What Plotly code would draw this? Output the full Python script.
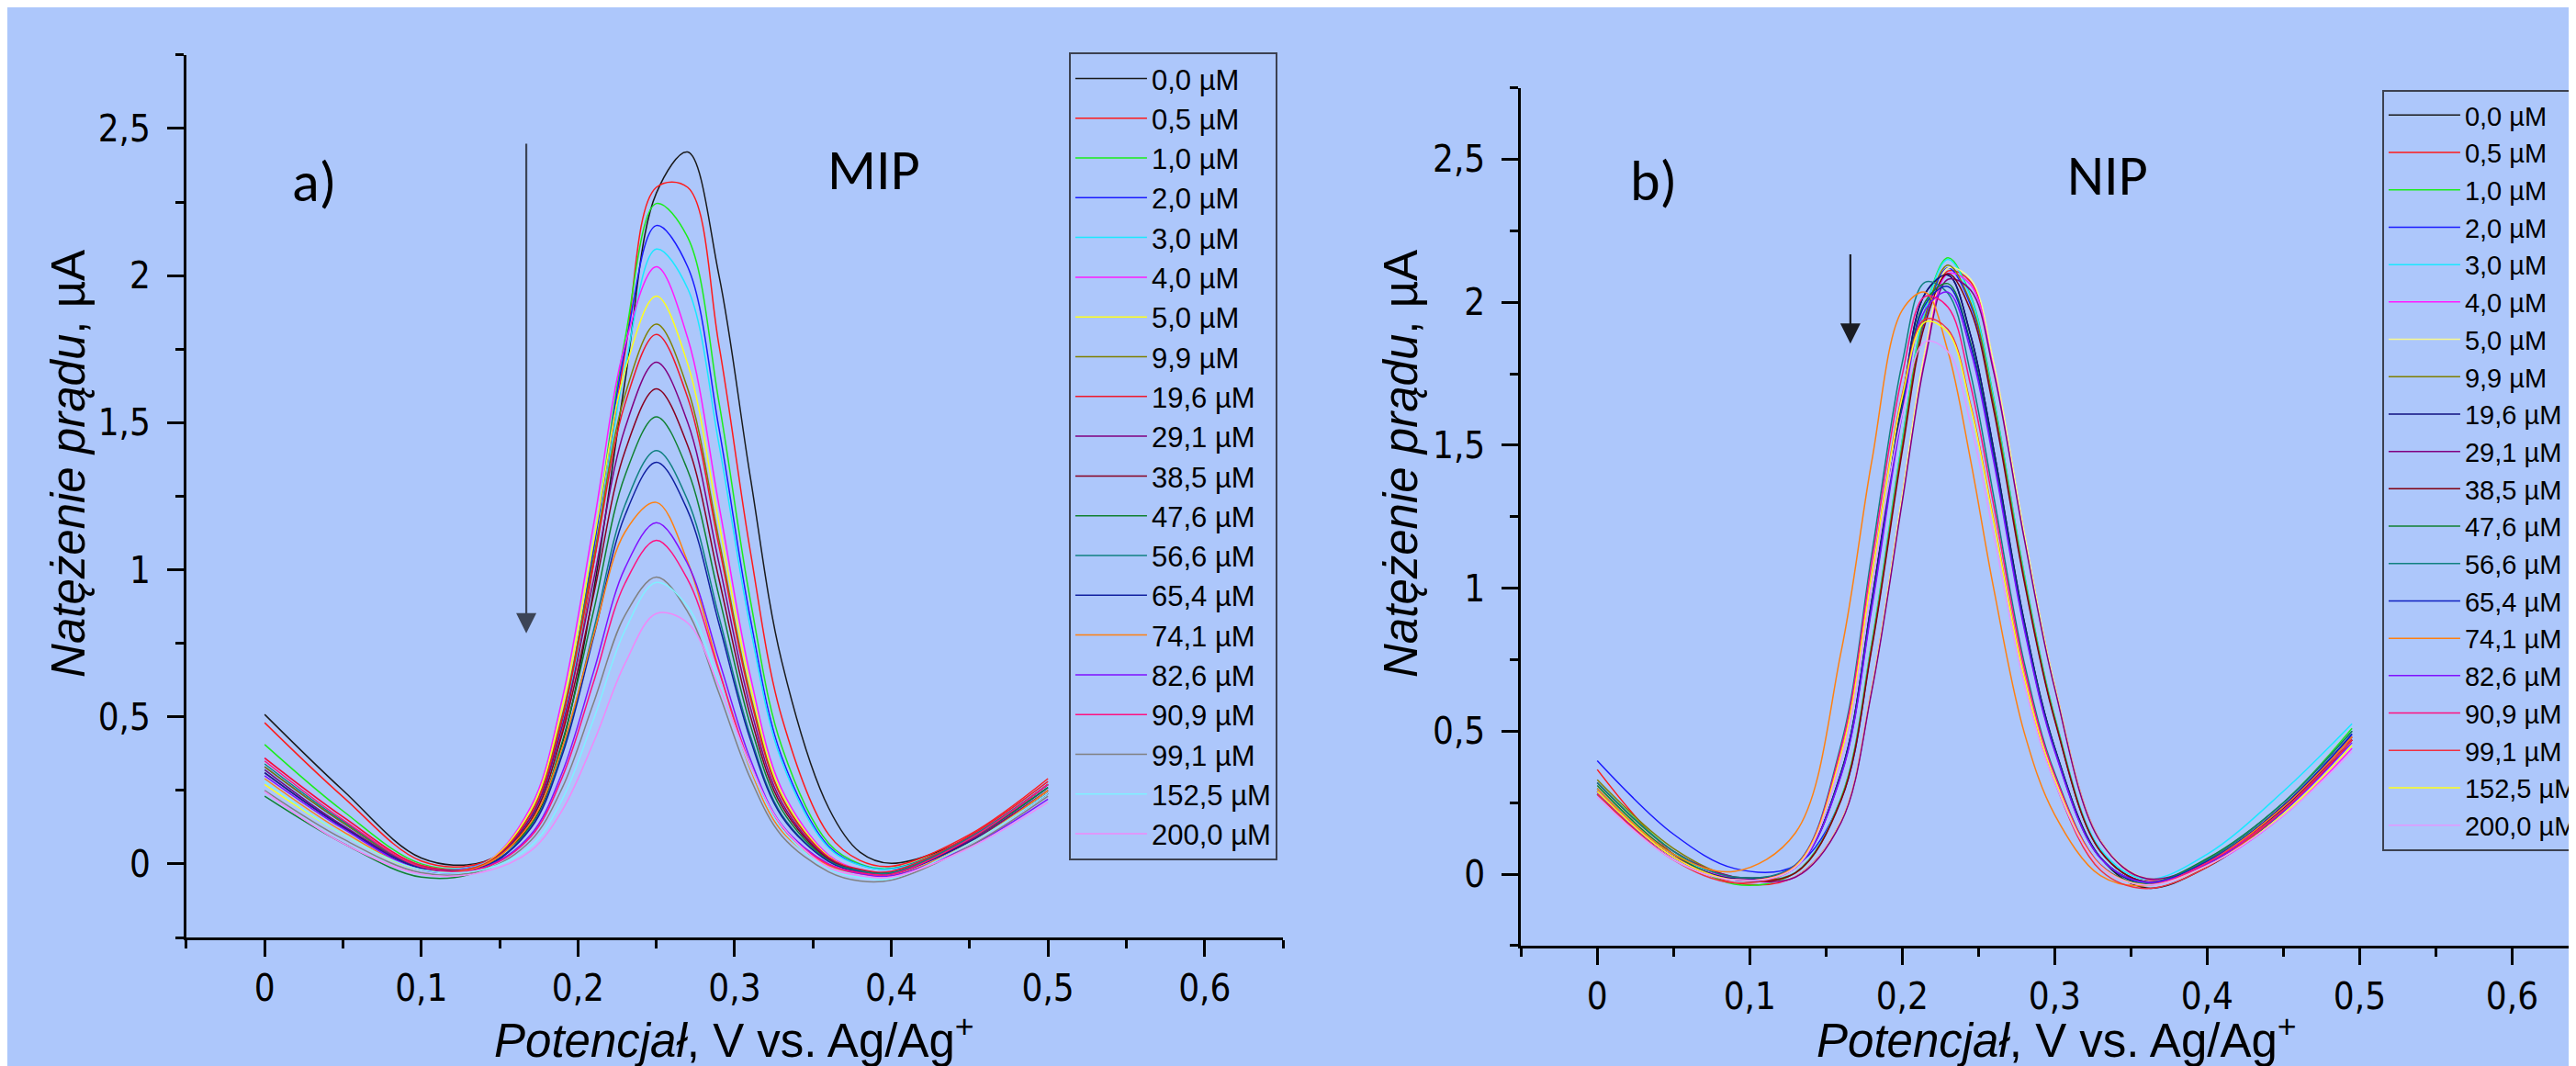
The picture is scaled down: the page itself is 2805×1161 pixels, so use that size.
import plotly.graph_objects as go

# ---------------- data ----------------
CONC_LABELS = ["0,0 µM", "0,5 µM", "1,0 µM", "2,0 µM", "3,0 µM", "4,0 µM", "5,0 µM",
               "9,9 µM", "19,6 µM", "29,1 µM", "38,5 µM", "47,6 µM", "56,6 µM",
               "65,4 µM", "74,1 µM", "82,6 µM", "90,9 µM", "99,1 µM", "152,5 µM", "200,0 µM"]

MIP_X = [0, 0.05, 0.1, 0.14, 0.17, 0.19, 0.21, 0.23, 0.25, 0.27, 0.29, 0.31, 0.33, 0.36, 0.38, 0.4, 0.45, 0.5]
NIP_X = [0, 0.05, 0.09, 0.13, 0.16, 0.18, 0.2, 0.215, 0.23, 0.245, 0.26, 0.28, 0.3, 0.33, 0.36, 0.4, 0.45, 0.495]

# MIP currents (µA)
MIP_0_0 = [0.508, 0.25, 0.02, 0.008, 0.134, 0.41, 0.93, 1.64, 2.28, 2.42, 2.00, 1.315, 0.69, 0.19, 0.04, 0.002, 0.09, 0.27]
MIP_0_5 = [0.48, 0.228, 0.01, 0.006, 0.15, 0.455, 1.02, 1.737, 2.30, 2.30, 1.763, 1.063, 0.50, 0.10, 0.012, -0.008, 0.10, 0.29]
MIP_1_0 = [0.406, 0.18, 0.0, 0.0, 0.156, 0.485, 1.076, 1.784, 2.245, 2.13, 1.569, 0.897, 0.40, 0.07, 0.0, -0.015, 0.09, 0.27]
MIP_2_0 = [0.33, 0.14, -0.01, 0.003, 0.16, 0.49, 1.071, 1.751, 2.17, 2.03, 1.48, 0.835, 0.365, 0.06, -0.003, -0.017, 0.085, 0.26]
MIP_3_0 = [0.32, 0.13, -0.01, 0.002, 0.154, 0.471, 1.032, 1.687, 2.09, 1.956, 1.426, 0.804, 0.35, 0.055, -0.004, -0.017, 0.08, 0.25]
MIP_4_0 = [0.36, 0.16, -0.005, 0.001, 0.195, 0.562, 1.154, 1.764, 2.03, 1.788, 1.219, 0.639, 0.255, 0.03, -0.02, -0.028, 0.09, 0.27]
MIP_5_0 = [0.27, 0.10, -0.02, 0.0, 0.184, 0.534, 1.096, 1.677, 1.93, 1.70, 1.159, 0.606, 0.24, 0.025, -0.022, -0.03, 0.075, 0.24]
MIP_9_9 = [0.33, 0.14, -0.01, -0.002, 0.173, 0.506, 1.042, 1.594, 1.835, 1.616, 1.101, 0.576, 0.228, 0.022, -0.022, -0.03, 0.08, 0.25]
MIP_19_6 = [0.36, 0.16, -0.005, -0.002, 0.17, 0.496, 1.022, 1.564, 1.80, 1.585, 1.08, 0.564, 0.225, 0.022, -0.018, -0.025, 0.095, 0.28]
MIP_29_1 = [0.32, 0.13, -0.01, -0.004, 0.159, 0.469, 0.967, 1.481, 1.705, 1.501, 1.022, 0.533, 0.21, 0.018, -0.022, -0.03, 0.08, 0.25]
MIP_38_5 = [0.31, 0.125, -0.015, -0.005, 0.149, 0.443, 0.915, 1.403, 1.615, 1.422, 0.968, 0.504, 0.198, 0.015, -0.023, -0.03, 0.075, 0.24]
MIP_47_6 = [0.23, 0.07, -0.045, -0.017, 0.134, 0.416, 0.861, 1.32, 1.52, 1.338, 0.91, 0.473, 0.185, 0.012, -0.024, -0.03, 0.085, 0.26]
MIP_56_6 = [0.34, 0.145, -0.01, -0.008, 0.126, 0.383, 0.795, 1.22, 1.405, 1.236, 0.84, 0.436, 0.168, 0.01, -0.024, -0.03, 0.09, 0.27]
MIP_65_4 = [0.31, 0.125, -0.015, -0.009, 0.122, 0.371, 0.772, 1.185, 1.365, 1.201, 0.816, 0.423, 0.162, 0.008, -0.028, -0.035, 0.075, 0.24]
MIP_74_1 = [0.29, 0.11, -0.02, -0.004, 0.141, 0.397, 0.778, 1.128, 1.229, 1.027, 0.661, 0.322, 0.112, -0.005, -0.033, -0.04, 0.07, 0.25]
MIP_82_6 = [0.30, 0.12, -0.02, -0.012, 0.10, 0.312, 0.654, 1.006, 1.16, 1.02, 0.692, 0.356, 0.133, 0.0, -0.033, -0.04, 0.06, 0.22]
MIP_90_9 = [0.35, 0.15, -0.01, -0.013, 0.093, 0.295, 0.619, 0.954, 1.10, 0.967, 0.655, 0.337, 0.125, -0.002, -0.03, -0.035, 0.085, 0.27]
MIP_99_1 = [0.25, 0.085, -0.03, -0.02, 0.08, 0.259, 0.548, 0.845, 0.975, 0.857, 0.58, 0.291, 0.096, -0.027, -0.058, -0.055, 0.06, 0.23]
MIP_152_5 = [0.28, 0.10, -0.02, -0.018, 0.061, 0.22, 0.492, 0.794, 0.957, 0.875, 0.615, 0.329, 0.12, -0.017, -0.046, -0.05, 0.07, 0.24]
MIP_200_0 = [0.246, 0.07, -0.035, -0.027, 0.045, 0.183, 0.414, 0.681, 0.851, 0.819, 0.604, 0.336, 0.131, -0.012, -0.04, -0.045, 0.055, 0.21]

# NIP currents (µA)
NIP_0_0 = [0.30, 0.07, -0.01, 0.025, 0.357, 0.955, 1.654, 2.03, 2.095, 1.882, 1.485, 0.884, 0.443, 0.058, -0.048, 0.025, 0.22, 0.47]
NIP_0_5 = [0.366, 0.07, -0.03, -0.009, 0.186, 0.649, 1.32, 1.823, 2.109, 2.07, 1.781, 1.191, 0.659, 0.117, -0.019, 0.04, 0.24, 0.48]
NIP_1_0 = [0.32, 0.08, -0.035, 0.006, 0.268, 0.809, 1.517, 1.974, 2.155, 2.021, 1.665, 1.051, 0.552, 0.083, -0.027, 0.05, 0.25, 0.51]
NIP_2_0 = [0.397, 0.14, 0.02, 0.03, 0.263, 0.796, 1.492, 1.942, 2.12, 1.988, 1.638, 1.034, 0.544, 0.081, -0.027, 0.04, 0.23, 0.49]
NIP_3_0 = [0.30, 0.07, -0.01, 0.006, 0.268, 0.807, 1.514, 1.97, 2.15, 2.016, 1.661, 1.048, 0.551, 0.088, -0.017, 0.07, 0.29, 0.526]
NIP_4_0 = [0.29, 0.06, -0.015, -0.01, 0.184, 0.646, 1.314, 1.814, 2.10, 2.06, 1.773, 1.186, 0.656, 0.116, -0.015, 0.03, 0.205, 0.44]
NIP_5_0 = [0.31, 0.08, -0.01, -0.009, 0.187, 0.652, 1.327, 1.831, 2.119, 2.08, 1.789, 1.197, 0.662, 0.117, -0.014, 0.035, 0.22, 0.46]
NIP_9_9 = [0.33, 0.09, -0.01, 0.005, 0.265, 0.80, 1.499, 1.951, 2.13, 1.997, 1.646, 1.038, 0.546, 0.081, -0.027, 0.05, 0.25, 0.50]
NIP_19_6 = [0.28, 0.06, -0.015, 0.025, 0.357, 0.955, 1.654, 2.03, 2.095, 1.882, 1.485, 0.884, 0.443, 0.058, -0.035, 0.04, 0.23, 0.47]
NIP_29_1 = [0.32, 0.08, -0.01, -0.01, 0.182, 0.64, 1.302, 1.797, 2.08, 2.041, 1.756, 1.174, 0.65, 0.114, -0.015, 0.045, 0.235, 0.48]
NIP_38_5 = [0.29, 0.06, -0.02, 0.005, 0.26, 0.788, 1.478, 1.924, 2.10, 1.969, 1.623, 1.024, 0.539, 0.08, -0.027, 0.035, 0.22, 0.47]
NIP_47_6 = [0.31, 0.07, -0.02, 0.024, 0.351, 0.941, 1.63, 2.001, 2.065, 1.855, 1.464, 0.871, 0.437, 0.057, -0.028, 0.055, 0.25, 0.50]
NIP_56_6 = [0.32, 0.08, -0.01, 0.033, 0.456, 1.118, 1.788, 2.07, 2.031, 1.747, 1.321, 0.74, 0.354, 0.033, -0.032, 0.05, 0.25, 0.50]
NIP_65_4 = [0.29, 0.06, -0.02, 0.024, 0.349, 0.937, 1.622, 1.991, 2.055, 1.846, 1.457, 0.867, 0.435, 0.057, -0.028, 0.045, 0.24, 0.49]
NIP_74_1 = [0.30, 0.07, 0.01, 0.145, 0.78, 1.443, 1.972, 2.035, 1.828, 1.443, 0.999, 0.496, 0.208, -0.005, -0.04, 0.04, 0.235, 0.48]
NIP_82_6 = [0.28, 0.06, -0.02, 0.024, 0.346, 0.928, 1.607, 1.972, 2.035, 1.828, 1.443, 0.858, 0.43, 0.056, -0.028, 0.035, 0.22, 0.46]
NIP_90_9 = [0.29, 0.06, -0.02, 0.03, 0.444, 1.091, 1.745, 2.02, 1.983, 1.706, 1.289, 0.722, 0.346, 0.032, -0.037, 0.04, 0.225, 0.47]
NIP_99_1 = [0.28, 0.05, -0.03, 0.027, 0.424, 1.048, 1.677, 1.941, 1.905, 1.638, 1.238, 0.694, 0.323, 0.014, -0.05, 0.025, 0.225, 0.47]
NIP_152_5 = [0.29, 0.06, -0.02, 0.027, 0.421, 1.043, 1.668, 1.931, 1.895, 1.63, 1.232, 0.69, 0.331, 0.029, -0.037, 0.03, 0.21, 0.45]
NIP_200_0 = [0.27, 0.05, -0.02, 0.023, 0.404, 1.005, 1.608, 1.862, 1.827, 1.571, 1.187, 0.665, 0.32, 0.027, -0.038, 0.03, 0.205, 0.43]

MIP_COLORS = ["#1a1a1a", "#ff1a1a", "#1aee1a", "#1a1aff", "#1ae8ff", "#ff1aff", "#ffff1a", "#808000",
              "#f0182a", "#800080", "#880020", "#108030", "#108080", "#1020a0", "#ff8010", "#8010ff",
              "#ff1080", "#808080", "#80f0ff", "#f088f8"]
NIP_COLORS = ["#1a1a1a", "#ff1a1a", "#1aee1a", "#1a1aff", "#1ae8ff", "#ff1aff", "#f8f890", "#808000",
              "#101080", "#800080", "#800010", "#108030", "#108080", "#1020c0", "#ff8010", "#8010ff",
              "#ff1080", "#f03040", "#ffff1a", "#e498ff"]

X_TICK_VALS = [0, 0.1, 0.2, 0.3, 0.4, 0.5, 0.6]
X_TICK_TEXT = ["0", "0,1", "0,2", "0,3", "0,4", "0,5", "0,6"]
Y_TICK_VALS = [0, 0.5, 1, 1.5, 2, 2.5]
Y_TICK_TEXT = ["0", "0,5", "1", "1,5", "2", "2,5"]

MIP_SERIES = [MIP_0_0, MIP_0_5, MIP_1_0, MIP_2_0, MIP_3_0, MIP_4_0, MIP_5_0, MIP_9_9, MIP_19_6, MIP_29_1,
              MIP_38_5, MIP_47_6, MIP_56_6, MIP_65_4, MIP_74_1, MIP_82_6, MIP_90_9, MIP_99_1, MIP_152_5, MIP_200_0]
NIP_SERIES = [NIP_0_0, NIP_0_5, NIP_1_0, NIP_2_0, NIP_3_0, NIP_4_0, NIP_5_0, NIP_9_9, NIP_19_6, NIP_29_1,
              NIP_38_5, NIP_47_6, NIP_56_6, NIP_65_4, NIP_74_1, NIP_82_6, NIP_90_9, NIP_99_1, NIP_152_5, NIP_200_0]

# ---------------- figure ----------------
FONT = '"Liberation Sans", Arial, sans-serif'
TICKFONT = '"Liberation Sans Narrow", "DejaVu Sans Condensed", "Liberation Sans", Arial, sans-serif'
LABELFONT = 'Carlito, Lato, "Liberation Sans", sans-serif'
BG = "#adc7fb"

fig = go.Figure()
for lab, ys, col in zip(CONC_LABELS, MIP_SERIES, MIP_COLORS):
    fig.add_trace(go.Scatter(x=MIP_X, y=ys, name=lab, mode="lines",
                             line=dict(color=col, width=1.5, shape="spline", smoothing=1.0),
                             xaxis="x", yaxis="y", legend="legend"))
for lab, ys, col in zip(CONC_LABELS, NIP_SERIES, NIP_COLORS):
    fig.add_trace(go.Scatter(x=NIP_X, y=ys, name=lab, mode="lines",
                             line=dict(color=col, width=1.5, shape="spline", smoothing=1.0),
                             xaxis="x2", yaxis="y2", legend="legend2"))

def xaxis(domain, rng, anchor):
    return dict(domain=domain, range=rng, anchor=anchor, showline=True, linecolor="black", linewidth=3,
                ticks="outside", ticklen=18, tickwidth=2.5, tickcolor="black",
                tickvals=X_TICK_VALS, ticktext=X_TICK_TEXT, ticklabelstandoff=0,
                tickfont=dict(family=TICKFONT, size=40, color="black"),
                minor=dict(dtick=0.05, tick0=0, ticks="outside", ticklen=9, tickwidth=2.5, tickcolor="black", showgrid=False),
                showgrid=False, zeroline=False)

def yaxis(domain, anchor):
    return dict(domain=domain, range=[-0.25, 2.75], anchor=anchor, showline=True, linecolor="black", linewidth=3,
                ticks="outside", ticklen=18, tickwidth=2.5, tickcolor="black",
                tickvals=Y_TICK_VALS, ticktext=Y_TICK_TEXT, ticklabelstandoff=10,
                tickfont=dict(family=TICKFONT, size=40, color="black"),
                minor=dict(dtick=0.25, tick0=0, ticks="outside", ticklen=9, tickwidth=2.5, tickcolor="black", showgrid=False),
                showgrid=False, zeroline=False)

legend_common = dict(xanchor="left", yanchor="top", bgcolor="rgba(0,0,0,0)", bordercolor="#3c4150",
                     borderwidth=2, itemwidth=78, tracegroupgap=0, traceorder="normal")

TITLE_X = "<i>Potencjał</i>, V vs. Ag/Ag<sup>+</sup>"
TITLE_Y = "<i>Natężenie prądu</i>, µA"

annotations = [
    dict(text=TITLE_X, x=0.28235, y=0.004, xref="paper", yref="paper",
         showarrow=False, xanchor="center", yanchor="bottom", font=dict(family=FONT, size=51, color="black")),
    dict(text=TITLE_X, x=0.79537, y=0.004, xref="paper", yref="paper",
         showarrow=False, xanchor="center", yanchor="bottom", font=dict(family=FONT, size=51, color="black")),
    dict(text=TITLE_Y, x=0.0239, y=0.572, xref="paper", yref="paper", textangle=-90,
         showarrow=False, xanchor="center", yanchor="middle", font=dict(family=FONT, size=51, color="black")),
    dict(text=TITLE_Y, x=0.5412, y=0.572, xref="paper", yref="paper", textangle=-90,
         showarrow=False, xanchor="center", yanchor="middle", font=dict(family=FONT, size=51, color="black")),
    dict(text="a)", x=0.1194, y=0.8364, xref="paper", yref="paper", showarrow=False,
         xanchor="center", yanchor="middle", font=dict(family=LABELFONT, size=62, color="black")),
    dict(text="MIP", x=0.3365, y=0.8476, xref="paper", yref="paper", showarrow=False,
         xanchor="center", yanchor="middle", font=dict(family=LABELFONT, size=62, color="black")),
    dict(text="b)", x=0.6392, y=0.8372, xref="paper", yref="paper", showarrow=False,
         xanchor="center", yanchor="middle", font=dict(family=LABELFONT, size=62, color="black")),
    dict(text="NIP", x=0.8153, y=0.8424, xref="paper", yref="paper", showarrow=False,
         xanchor="center", yanchor="middle", font=dict(family=LABELFONT, size=62, color="black")),
    dict(text="", x=0.167, y=0.784, ax=0.167, ay=2.453, xref="x", yref="y", axref="x", ayref="y",
         showarrow=True, arrowhead=2, arrowsize=2.0, arrowwidth=2.2, arrowcolor="#3c4456", standoff=0),
    dict(text="", x=0.166, y=1.855, ax=0.166, ay=2.172, xref="x2", yref="y2", axref="x2", ayref="y2",
         showarrow=True, arrowhead=2, arrowsize=2.0, arrowwidth=2.2, arrowcolor="#1a1c22", standoff=0),
]

fig.update_layout(
    width=2805, height=1161,
    margin=dict(l=0, r=0, t=0, b=0, autoexpand=False),
    paper_bgcolor=BG, plot_bgcolor="rgba(0,0,0,0)",
    font=dict(family=FONT, color="black"),
    showlegend=True,
    xaxis=xaxis([0.06948, 0.4952], [-0.05, 0.65], "y"),
    yaxis=yaxis([0.12747, 0.95538], "x"),
    xaxis2=xaxis([0.5876, 1.0], [-0.05, 0.6467], "y2"),
    yaxis2=yaxis([0.11973, 0.92463], "x2"),
    legend=dict(x=0.4121, y=0.958, font=dict(family=FONT, size=31, color="black"), **legend_common),
    legend2=dict(x=0.9219, y=0.9225, font=dict(family=FONT, size=29, color="black"), **legend_common),
    annotations=annotations,
)

fig.write_html("out.html")
